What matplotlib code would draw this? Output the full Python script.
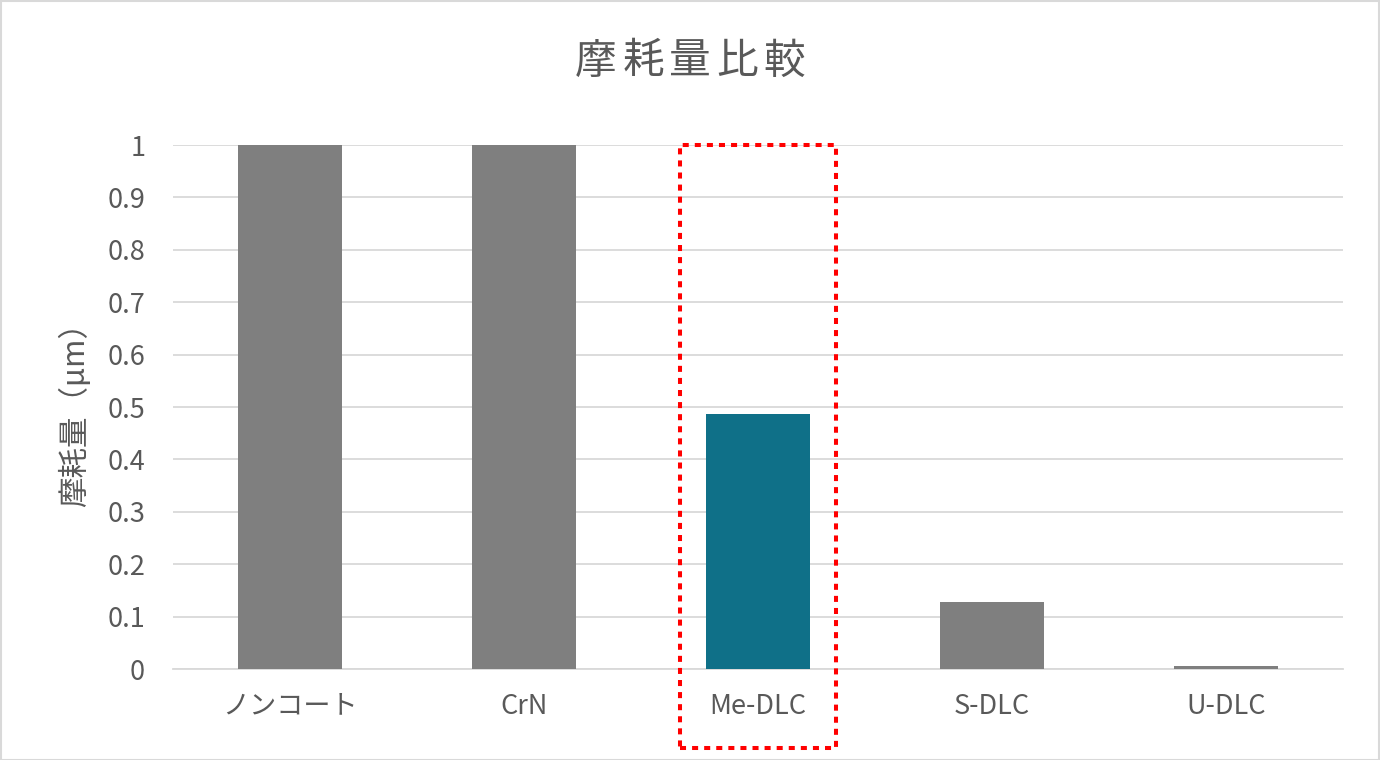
import matplotlib
matplotlib.use("Agg")
import matplotlib.pyplot as plt
from matplotlib.patches import Rectangle

plt.rcParams['font.family'] = ['Noto Sans CJK JP', 'DejaVu Sans']

categories = ["ノンコート", "CrN", "Me-DLC", "S-DLC", "U-DLC"]
values = [1.0, 1.0, 0.487, 0.128, 0.006]
bar_colors = ["#7F7F7F", "#7F7F7F", "#0F7088", "#7F7F7F", "#7F7F7F"]
yticks = [0, 0.1, 0.2, 0.3, 0.4, 0.5, 0.6, 0.7, 0.8, 0.9, 1]
ytick_labels = ["0", "0.1", "0.2", "0.3", "0.4", "0.5", "0.6", "0.7", "0.8", "0.9", "1"]
title = "摩耗量比較"
ylabel = "摩耗量（μm）"
highlight_index = 2

W, H = 1380, 760
fig = plt.figure(figsize=(W / 100, H / 100), dpi=100)
ax = fig.add_axes([173 / W, 1 - 669 / H, (1343 - 173) / W, (669 - 145) / H])

x = list(range(len(categories)))
ax.bar(x, values, width=0.444, color=bar_colors, zorder=3)
ax.set_xlim(-0.5, len(categories) - 0.5)
ax.set_ylim(0, 1)
ax.set_yticks(yticks)
ax.set_yticklabels(ytick_labels)
ax.set_xticks(x)
ax.set_xticklabels(categories)

text_color = "#595959"
grid_color = "#D9D9D9"
ax.tick_params(axis='y', length=0, pad=20, labelsize=19.5, labelcolor=text_color)
ax.tick_params(axis='x', length=0, pad=17, labelsize=19.5, labelcolor=text_color)
ax.grid(axis='y', color=grid_color, linewidth=1.3, zorder=0)
for s in ['top', 'right', 'left']:
    ax.spines[s].set_visible(False)
ax.spines['bottom'].set_color(grid_color)
ax.spines['bottom'].set_linewidth(1.3)
ax.spines['bottom'].set_zorder(1)

ax.set_ylabel(ylabel, fontsize=22, color=text_color, labelpad=12)

# title with slight letter spacing
pitch = 47
start = 690 - pitch * (len(title) - 1) / 2
for i, ch in enumerate(title):
    fig.text((start + i * pitch) / W, 1 - 62 / H, ch, ha='center', va='center',
             fontsize=30, color=text_color)

# highlight box around Me-DLC
rect = Rectangle((highlight_index - 0.333, -0.151), 0.666, 1.151, fill=False,
                 edgecolor="#FF0000", linewidth=2.9, linestyle=(0, (1.5, 1.5)),
                 clip_on=False, zorder=5)
ax.add_patch(rect)

# figure border
fig.patches.append(Rectangle((0.5 / W, 0.5 / H), 1 - 1.5 / W, 1 - 1.5 / H, transform=fig.transFigure,
                             fill=False, edgecolor="#D9D9D9", linewidth=1.5))

fig.savefig("out.png", dpi=100, facecolor="white")
